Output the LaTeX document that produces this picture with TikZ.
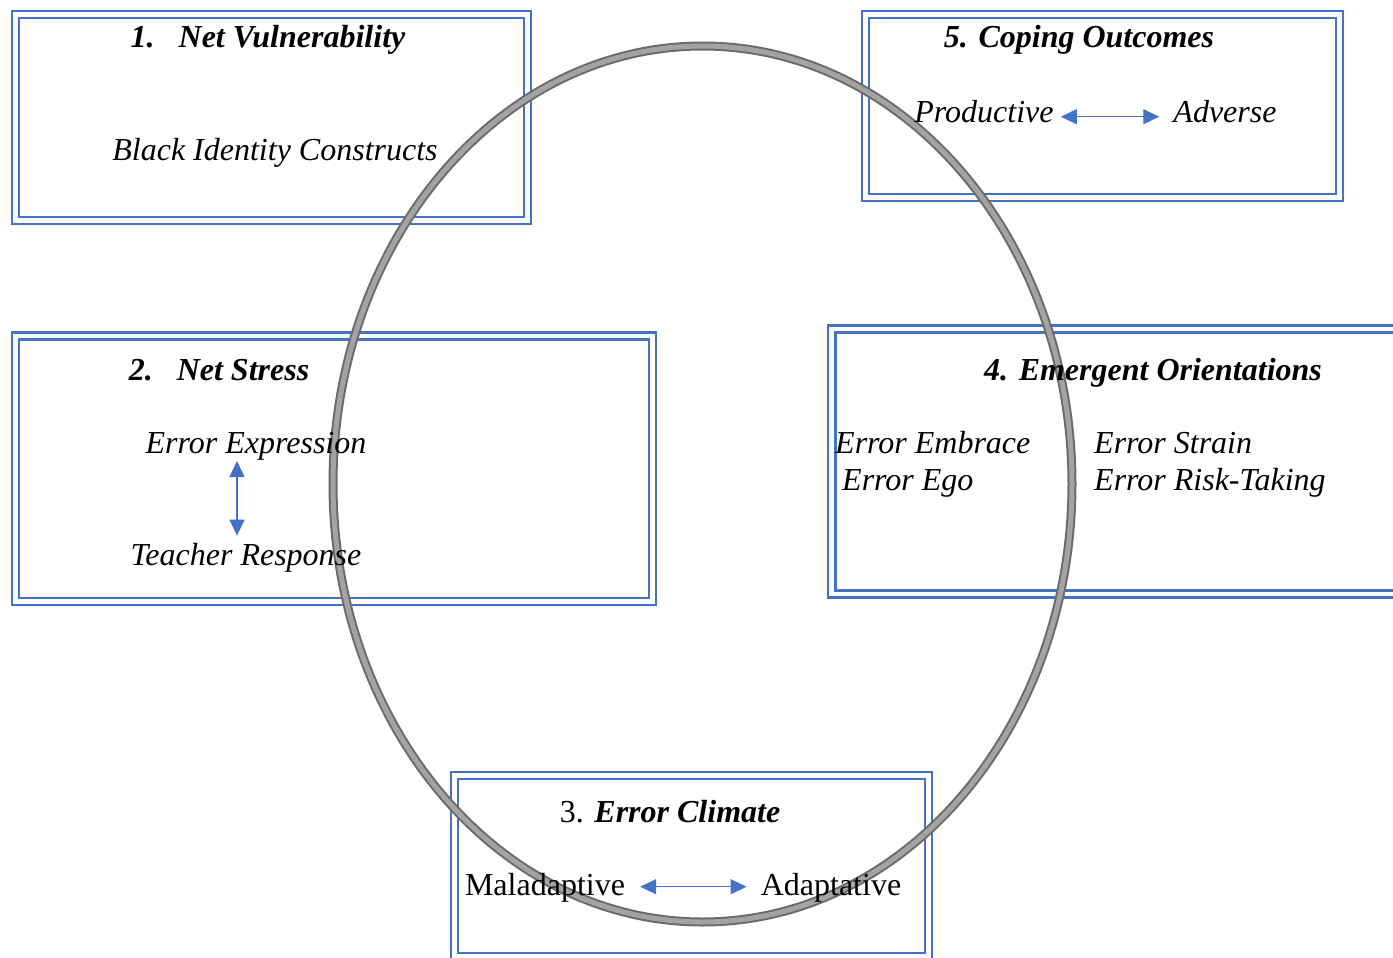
\documentclass[tikz,border=0pt]{standalone}
\usepackage{fontspec}
\setmainfont{Liberation Serif}
\usetikzlibrary{arrows.meta}
\definecolor{frameblue}{HTML}{4472C4}
\tikzset{
  frame/.style={draw=frameblue, line width=2.6pt, double=white, double distance=4.6pt},
  ring/.style={draw=black!58, line width=2pt, double=black!36, double distance=5pt},
  twoway/.style={draw=frameblue, line width=1.3pt, {Triangle[length=16pt,width=15pt]}-{Triangle[length=16pt,width=15pt]}},
  headtxt/.style={font=\fontsize{32}{38}\selectfont\bfseries\itshape},
  itemtxt/.style={font=\fontsize{32}{38}\selectfont\itshape},
  romtxt/.style={font=\fontsize{32}{38}\selectfont},
}
\begin{document}
\begin{tikzpicture}[x=1pt, y=-1pt, every node/.style={inner sep=0pt}]
\useasboundingbox (0,0) rectangle (1393,958);
\clip (0,0) rectangle (1393,958);
% frames
\node[frame, minimum width=512, minimum height=206] (box1) at (271.5,117.5) {};
\node[frame, minimum width=637, minimum height=265.5] (box2) at (334,468.75) {};
\node[frame, minimum width=474, minimum height=181] (box3) at (691.5,866) {};
\node[frame, minimum width=566.5, minimum height=265] (box4) at (1115,461.5) {};
\node[frame, minimum width=474, minimum height=183] (box5) at (1102.5,106) {};
% cycle
\draw[ring] (702.5,484) ellipse [x radius=369.5pt, y radius=438pt];
% 1
\node[headtxt, anchor=base] (vuln) at (268,48) {1.\hspace{0.75em}Net Vulnerability};
\node[itemtxt, anchor=base] (bic) at (275,160) {Black Identity Constructs};
% 2
\node[headtxt, anchor=base] (stress) at (219,380) {2.\hspace{0.75em}Net Stress};
\node[itemtxt, anchor=base] (expr) at (256,453) {Error Expression};
\node[itemtxt, anchor=base] (resp) at (246,565) {Teacher Response};
\coordinate (stressaxis) at (237,0);
\draw[twoway, shorten <=1pt, shorten >=7pt] (expr.south -| stressaxis) -- (resp.north -| stressaxis);
% 3
\node[romtxt, anchor=base] (clim) at (670,822) {3. \textbf{\textit{Error Climate}}};
\node[romtxt, anchor=base] (malad) at (545,895) {Maladaptive};
\node[romtxt, anchor=base] (adapt) at (831,895) {Adaptative};
\draw[twoway, shorten <=15pt, shorten >=14pt] ([yshift=6pt]malad.mid east) -- ([yshift=6pt]adapt.mid west);
% 4
\node[headtxt, anchor=base] (orient) at (1153,380) {4. Emergent Orientations};
\node[itemtxt, anchor=base west] (embr) at (835,453) {Error Embrace};
\node[itemtxt, anchor=base west] (ego) at (842,490) {Error Ego};
\node[itemtxt, anchor=base west] (strain) at (1094,453) {Error Strain};
\node[itemtxt, anchor=base west] (risk) at (1094,490) {Error Risk-Taking};
% 5
\node[headtxt, anchor=base] (cope) at (1079,48) {5. Coping Outcomes};
\node[itemtxt, anchor=base] (prod) at (984,122) {Productive};
\node[itemtxt, anchor=base] (adv) at (1225,122) {Adverse};
\draw[twoway, shorten <=7pt, shorten >=14pt] ([yshift=3pt]prod.mid east) -- ([yshift=3pt]adv.mid west);
\end{tikzpicture}
\end{document}
